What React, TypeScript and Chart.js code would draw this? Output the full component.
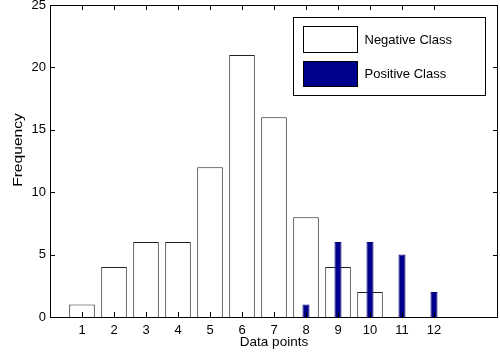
import React, { useEffect, useRef } from "react";
import { Chart, registerables } from "chart.js";

Chart.register(...registerables);

const positions = ["0", "1", "2", "3", "4", "5", "6", "7", "8", "9", "10", "11", "12", "13", "14"];
const visibleTicks = [1, 2, 3, 4, 5, 6, 7, 8, 9, 10, 11, 12];
const negativeValues = [null, 1, 4, 6, 6, 12, 21, 16, 8, 4, 2, 0, 0, null, null];
const positiveValues = [null, 0, 0, 0, 0, 0, 0, 0, 1, 6, 6, 5, 2, null, null];
const yTicks = [0, 5, 10, 15, 20, 25];
const seriesNames = ["Negative Class", "Positive Class"];
const xTitle = "Data points";
const yTitle = "Frequency";

const NAVY = "#00008F";
const FONT = "Liberation Sans, Arial, Helvetica, sans-serif";

const framePlugin = {
  id: "matlabFrame",
  afterDatasetsDraw(chart: any) {
    const { ctx, chartArea: a, scales } = chart;
    const xs = scales.x;
    const ys = scales.y;
    ctx.save();
    ctx.strokeStyle = "#000";
    ctx.lineWidth = 1;
    ctx.strokeRect(Math.round(a.left) + 0.5, Math.round(a.top) + 0.5, Math.round(a.right - a.left) - 1, Math.round(a.bottom - a.top));
    ctx.beginPath();
    const tl = 5;
    visibleTicks.forEach((v) => {
      const px = Math.round(xs.getPixelForValue(v)) + 0.5;
      ctx.moveTo(px, a.bottom);
      ctx.lineTo(px, a.bottom - tl);
      ctx.moveTo(px, a.top);
      ctx.lineTo(px, a.top + tl);
    });
    yTicks.forEach((v) => {
      const py = Math.round(ys.getPixelForValue(v)) + 0.5;
      ctx.moveTo(a.left, py);
      ctx.lineTo(a.left + tl, py);
      ctx.moveTo(a.right, py);
      ctx.lineTo(a.right - tl, py);
    });
    ctx.stroke();

    // legend box
    const bx = Math.round(a.right) - 204.5;
    const by = Math.round(a.top) + 12.5;
    const bw = 192;
    const bh = 78;
    ctx.fillStyle = "#fff";
    ctx.fillRect(bx, by, bw, bh);
    ctx.strokeRect(bx, by, bw, bh);
    const sx = bx + 10;
    const sw = 54;
    ctx.fillStyle = "#fff";
    ctx.fillRect(sx, by + 9, sw, 26);
    ctx.strokeRect(sx, by + 9, sw, 26);
    ctx.fillStyle = NAVY;
    ctx.fillRect(sx, by + 44, sw, 25);
    ctx.strokeRect(sx, by + 44, sw, 25);
    ctx.fillStyle = "#000";
    ctx.font = `13px ${FONT}`;
    ctx.textBaseline = "middle";
    ctx.textAlign = "left";
    ctx.fillText(seriesNames[0], sx + 61, by + 22.5);
    ctx.fillText(seriesNames[1], sx + 61, by + 57);

    // axis titles
    ctx.textAlign = "center";
    ctx.font = `13.5px ${FONT}`;
    ctx.fillText(xTitle, (a.left + a.right) / 2, 342);
    ctx.save();
    ctx.translate(18, 150);
    ctx.rotate(-Math.PI / 2);
    ctx.font = `13px ${FONT}`;
    const w = ctx.measureText(yTitle).width;
    ctx.scale(Math.min(1.2, 76 / w), 1);
    ctx.fillText(yTitle, 0, 0);
    ctx.restore();
    ctx.restore();
  },
};

export default function App() {
  const ref = useRef<HTMLCanvasElement | null>(null);
  useEffect(() => {
    document.body.style.margin = "0";
    const canvas = ref.current;
    if (!canvas) return;
    const chart = new Chart(canvas, {
      type: "bar",
      data: {
        labels: positions,
        datasets: [
          {
            label: seriesNames[0],
            data: negativeValues,
            backgroundColor: "#ffffff",
            borderColor: "#222222",
            borderWidth: 1,
            borderSkipped: "start",
            grouped: false,
            categoryPercentage: 1,
            barPercentage: 0.8,
            order: 2,
          },
          {
            label: seriesNames[1],
            data: positiveValues,
            backgroundColor: NAVY,
            borderColor: "#000070",
            borderWidth: 1,
            borderSkipped: "start",
            grouped: false,
            categoryPercentage: 1,
            barPercentage: 0.22,
            order: 1,
          },
        ],
      },
      options: {
        responsive: false,
        animation: false,
        maintainAspectRatio: false,
        layout: { padding: { top: 5, right: 2, left: 0, bottom: 0 } },
        plugins: {
          legend: { display: false },
          tooltip: { enabled: false },
          title: { display: false },
        },
        scales: {
          x: {
            type: "category",
            offset: false,
            grid: { display: false, drawTicks: false },
            border: { display: false },
            ticks: {
              autoSkip: false,
              maxRotation: 0,
              padding: 6,
              color: "#000",
              font: { size: 13, family: FONT },
              callback: (_v: any, i: number) => (visibleTicks.includes(i) ? positions[i] : ""),
            },
            afterFit: (s: any) => {
              s.height = 38;
              s.paddingLeft = 0;
              s.paddingRight = 0;
            },
          },
          y: {
            min: 0,
            max: 25,
            grid: { display: false, drawTicks: false },
            border: { display: false },
            ticks: {
              stepSize: 5,
              padding: 4,
              color: "#000",
              font: { size: 13, family: FONT },
            },
            afterFit: (s: any) => {
              s.width = 50;
              s.paddingTop = 0;
              s.paddingBottom = 0;
            },
          },
        },
      },
      plugins: [framePlugin],
    });
    return () => chart.destroy();
  }, []);
  return <canvas ref={ref} width={500} height={355} style={{ display: "block" }} />;
}
